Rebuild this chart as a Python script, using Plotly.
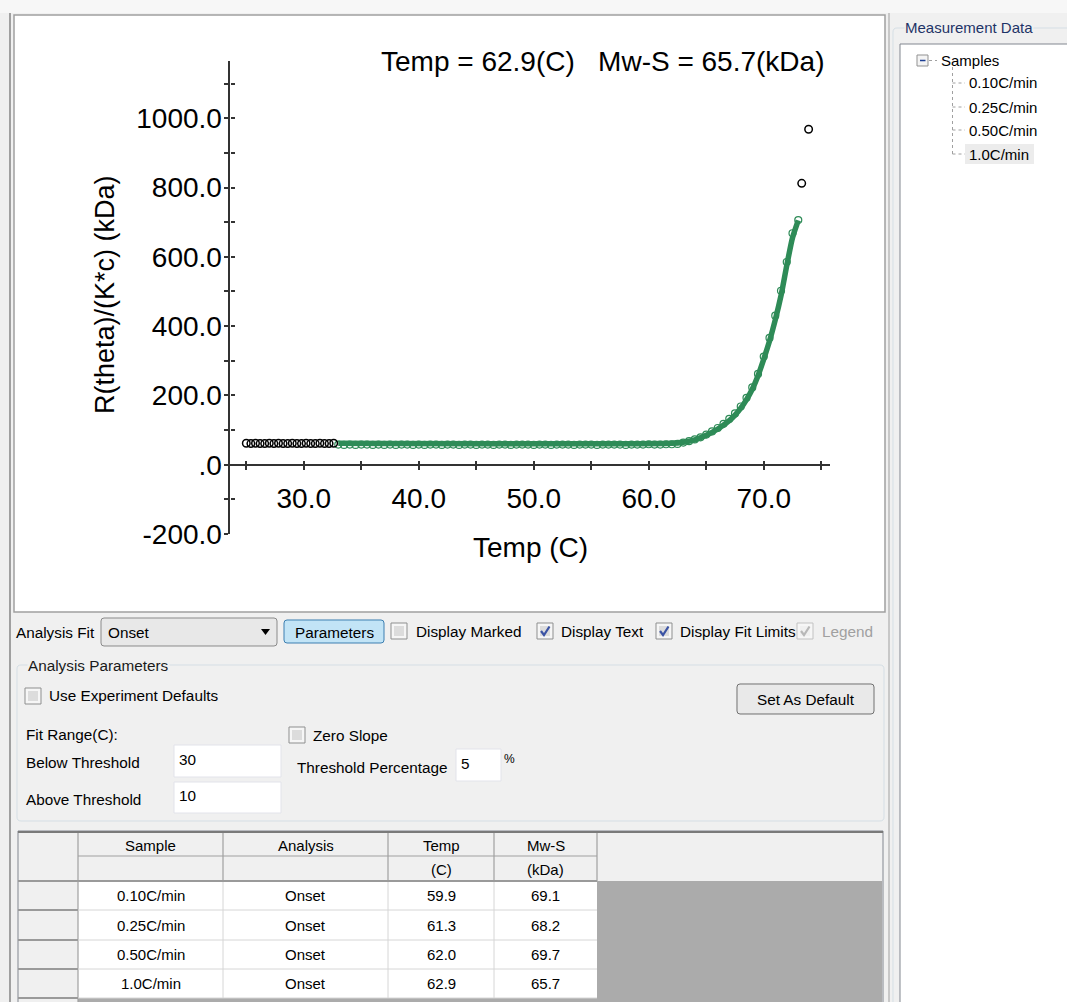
import plotly.graph_objects as go

W, H = 1067, 1002

# ---------------- data ----------------
# points outside the fit range (black)
excluded_temp = [25.0, 25.4, 25.8, 26.2, 26.6, 27.0, 27.4, 27.8, 28.2, 28.6,
                 29.0, 29.4, 29.8, 30.2, 30.6, 31.0, 31.4, 31.8, 32.2, 32.6,
                 73.3, 73.9]
excluded_val = [62, 61, 62, 61, 61, 62, 61, 62, 61, 61,
                62, 61, 61, 62, 61, 61, 62, 61, 61, 62,
                812, 968]

# points inside the fit range (green)
fit_range_temp = [33.0, 33.5, 34.0, 34.5, 35.0, 35.5, 36.0, 36.5, 37.0, 37.5,
                  38.0, 38.5, 39.0, 39.5, 40.0, 40.5, 41.0, 41.5, 42.0, 42.5,
                  43.0, 43.5, 44.0, 44.5, 45.0, 45.5, 46.0, 46.5, 47.0, 47.5,
                  48.0, 48.5, 49.0, 49.5, 50.0, 50.5, 51.0, 51.5, 52.0, 52.5,
                  53.0, 53.5, 54.0, 54.5, 55.0, 55.5, 56.0, 56.5, 57.0, 57.5,
                  58.0, 58.5, 59.0, 59.5, 60.0, 60.5, 61.0, 61.5, 62.0, 62.5,
                  63.0, 63.5, 64.0, 64.5, 65.0, 65.5, 66.0, 66.5, 67.0, 67.5,
                  68.0, 68.5, 69.0, 69.5, 70.0, 70.5, 71.0, 71.5, 72.0, 72.5,
                  73.0]
fit_range_val = [58, 57, 58, 57, 58, 58, 57, 58, 57, 58,
                 57, 58, 58, 57, 58, 57, 58, 58, 57, 58,
                 58, 57, 58, 58, 57, 58, 58, 57, 58, 58,
                 57, 58, 58, 58, 57, 58, 58, 57, 58, 58,
                 58, 57, 58, 58, 58, 57, 58, 58, 58, 58,
                 57, 58, 58, 58, 59, 58, 58, 59, 59, 60,
                 64, 68, 73, 79, 87, 96, 106, 118, 132, 148,
                 168, 193, 223, 262, 312, 366, 430, 502, 585, 668,
                 706]

# onset fit curve
fit_temp = [33.0, 62.0, 63.0, 64.0, 65.0, 66.0, 67.0, 67.5, 68.0, 68.5,
            69.0, 69.5, 70.0, 70.5, 71.0, 71.5, 72.0, 72.5, 73.0]
fit_val = [62, 62, 65, 72, 85, 103, 127, 143, 163, 188,
           218, 257, 305, 357, 418, 488, 575, 655, 705]

x_tick_vals = [25, 30, 35, 40, 45, 50, 55, 60, 65, 70, 75]
x_tick_text = ['', '30.0', '', '40.0', '', '50.0', '', '60.0', '', '70.0', '']
y_tick_vals = [-200, -100, 0, 100, 200, 300, 400, 500, 600, 700, 800, 900, 1000, 1100]
y_tick_text = ['-200.0', '', '.0', '', '200.0', '', '400.0', '', '600.0', '',
               '800.0', '', '1000.0', '']

# results table
samples = ['0.10C/min', '0.25C/min', '0.50C/min', '1.0C/min']
analysis = ['Onset', 'Onset', 'Onset', 'Onset']
onset_temp = [59.9, 61.3, 62.0, 62.9]
mw_s = [69.1, 68.2, 69.7, 65.7]
selected = 3

# ---------------- helpers ----------------
UI = 'Arial, Liberation Sans, sans-serif'
shapes = []
annotations = []


def X(px):
    return px / W


def Y(py):
    return 1 - py / H


def rect(x0, y0, x1, y1, fill=None, line=None, lw=1):
    shapes.append(dict(type='rect', xref='paper', yref='paper',
                       x0=X(x0), x1=X(x1), y0=Y(y0), y1=Y(y1),
                       fillcolor=fill or 'rgba(0,0,0,0)',
                       line=dict(color=line or 'rgba(0,0,0,0)', width=lw if line else 0),
                       layer='below'))


def seg(x0, y0, x1, y1, color, lw=1, dash='solid'):
    shapes.append(dict(type='line', xref='paper', yref='paper',
                       x0=X(x0), x1=X(x1), y0=Y(y0), y1=Y(y1),
                       line=dict(color=color, width=lw, dash=dash), layer='below'))


def path(d, color=None, lw=1, fill=None):
    shapes.append(dict(type='path', xref='paper', yref='paper', path=d,
                       fillcolor=fill or 'rgba(0,0,0,0)',
                       line=dict(color=color or 'rgba(0,0,0,0)', width=lw if color else 0),
                       layer='below'))


def poly(pts, color=None, lw=1, fill=None, closed=False):
    d = 'M ' + ' L '.join(f'{X(a):.5f},{Y(b):.5f}' for a, b in pts)
    if closed:
        d += ' Z'
    path(d, color, lw, fill)


def rrect(x0, y0, x1, y1, r, fill=None, line=None, lw=1):
    p = lambda a, b: f'{X(a):.5f},{Y(b):.5f}'
    d = (f'M {p(x0 + r, y0)} L {p(x1 - r, y0)} Q {p(x1, y0)} {p(x1, y0 + r)} '
         f'L {p(x1, y1 - r)} Q {p(x1, y1)} {p(x1 - r, y1)} L {p(x0 + r, y1)} '
         f'Q {p(x0, y1)} {p(x0, y1 - r)} L {p(x0, y0 + r)} Q {p(x0, y0)} {p(x0 + r, y0)} Z')
    path(d, line, lw, fill)


def text(x, y, s, size=15.3, color='#000000', anchor='left', bg=None, angle=0, family=UI):
    a = dict(xref='paper', yref='paper', x=X(x), y=Y(y), text=s, showarrow=False,
             xanchor=anchor, yanchor='middle', textangle=angle,
             font=dict(family=family, size=size, color=color), borderpad=0)
    if bg:
        a['bgcolor'] = bg
    annotations.append(a)


def checkbox(x, y, checked=False, disabled=False):
    border = '#c2c2c2' if disabled else '#8e8f8f'
    rect(x, y, x + 16, y + 16, fill='#f6f6f6', line=border)
    rect(x + 3, y + 3, x + 13, y + 13, fill='#f0f0f0' if disabled else '#dcdcdc')
    if checked:
        col = '#b8b8b8' if disabled else '#3b53a4'
        poly([(x + 4, y + 8), (x + 7, y + 12), (x + 12.5, y + 3.5)], color=col, lw=2.2)


# ---------------- UI chrome ----------------
rect(0, 0, W, 13, fill='#f7f7f7')
seg(10, 13, 10, H, '#a0a0a0', 2)
seg(889, 13, 889, H, '#a0a0a0', 1)
# chart panel
rect(14, 15, 885, 612, fill='#ffffff', line='#a0a0a0', lw=1.5)

# right panel : Measurement Data
rrect(893, 28, 1080, 1015, 4, line='#d5dfe5', lw=1)
rect(900, 44, 1075, 1010, fill='#ffffff', line='#828790')
text(904, 28, 'Measurement Data', size=15, color='#1e3467', bg='#f0f0f0')
rect(917, 55, 928, 66, fill='#f4f4f4', line='#919191')
seg(920, 60.5, 925.5, 60.5, '#1c3f94', 1.5)
seg(929, 60.5, 937, 60.5, '#a0a0a0', 1, 'dot')
text(940, 60, 'Samples', size=15)
item_y = [83, 107, 130, 154]
seg(952.5, 67, 952.5, item_y[-1], '#a0a0a0', 1, 'dot')
for i, s in enumerate(samples):
    seg(952.5, item_y[i], 965, item_y[i], '#a0a0a0', 1, 'dot')
    if i == selected:
        rect(965, item_y[i] - 10, 1034, item_y[i] + 10, fill='#ececec')
    text(968, item_y[i], s, size=15)

# controls row
text(15, 632, 'Analysis Fit')
rrect(101, 618, 277, 646, 3, fill='#e8e8e8', line='#8a8a8a')
text(107, 632, 'Onset')
poly([(261, 629), (270, 629), (265.5, 635)], fill='#000000', closed=True)
rrect(284, 620, 384, 643, 3, fill='#c2e4f6', line='#3c7fb1')
text(334, 632, 'Parameters', anchor='center')
checkbox(391, 623)
text(415, 631, 'Display Marked')
checkbox(537, 623, True)
text(560, 631, 'Display Text')
checkbox(656, 623, True)
text(679, 631, 'Display Fit Limits')
checkbox(797, 623, True, disabled=True)
text(821, 631, 'Legend', color='#a0a0a0')

# analysis parameters group
rrect(17, 665, 884, 821, 4, line='#d5dfe5', lw=1)
text(27, 665, 'Analysis Parameters', color='#1a1a1a', bg='#f0f0f0')
checkbox(25, 688)
text(48, 695, 'Use Experiment Defaults')
rrect(737, 684, 874, 714, 3, fill='#e9e9e9', line='#707070')
text(805.5, 699, 'Set As Default', anchor='center')
text(25, 734, 'Fit Range(C):')
text(25, 762, 'Below Threshold')
rect(174, 745, 281, 777, fill='#ffffff', line='#e2e3ea')
text(178, 759, '30')
text(25, 799, 'Above Threshold')
rect(174, 782, 281, 813, fill='#ffffff', line='#e2e3ea')
text(178, 795, '10')
checkbox(289, 727)
text(312, 735, 'Zero Slope')
text(296, 767, 'Threshold Percentage')
rect(456, 749, 501, 781, fill='#ffffff', line='#e2e3ea')
text(460, 763, '5')
text(503, 759, '%', size=12)

# results table
col_x = [78, 223, 388, 494, 597]
row_y = [881, 910, 940, 969, 998]
rect(18, 831, 883, H + 5, fill='#f0f0f0', line='#828790')
seg(18, 832, 883, 832, '#7a7a7a', 2)
rect(col_x[0], row_y[0], col_x[-1], row_y[-1], fill='#ffffff')
rect(col_x[-1], row_y[0], 882, H + 5, fill='#ababab')
rect(col_x[0], row_y[-1], 882, H + 5, fill='#ababab')
for cx in col_x:
    seg(cx, 833, cx, row_y[0], '#a0a0a0', 1.2)
for cx in col_x[1:-1]:
    seg(cx, row_y[0], cx, row_y[-1], '#d6d6d6', 1)
seg(col_x[0], 856, col_x[-1], 856, '#a0a0a0', 1.2)
seg(18, row_y[0], col_x[-1], row_y[0], '#9a9a9a', 2)
seg(col_x[0], row_y[0], col_x[0], H, '#a0a0a0', 1.2)
for ry in row_y[1:]:
    seg(18, ry, col_x[0], ry, '#9a9a9a', 2)
    seg(col_x[0], ry, col_x[-1], ry, '#d6d6d6', 1)
heads = ['Sample', 'Analysis', 'Temp', 'Mw-S']
units = ['', '', '(C)', '(kDa)']
centers = [(col_x[i] + col_x[i + 1]) / 2 for i in range(4)]
for i in range(4):
    text(centers[i], 845, heads[i], size=15, anchor='center')
    if units[i]:
        text(centers[i], 869, units[i], size=15, anchor='center')
for r in range(4):
    cy = (row_y[r] + row_y[r + 1]) / 2
    vals = [samples[r], analysis[r], f'{onset_temp[r]:.1f}', f'{mw_s[r]:.1f}']
    for i in range(4):
        text(centers[i], cy, vals[i], size=15, anchor='center')

# ---------------- chart ----------------
CF = 'Arial, Liberation Sans, sans-serif'
xd = [229.5 / W, 830 / W]
yd = [Y(534), Y(60.7)]
x_range = [23.54, 75.76]
y_range = [-200, 1166]
pos0 = yd[0] + (0 - y_range[0]) / (y_range[1] - y_range[0]) * (yd[1] - yd[0])

fig = go.Figure()
fig.add_trace(go.Scatter(x=fit_range_temp, y=fit_range_val, mode='markers',
                         marker=dict(symbol='circle-open', size=7, color='#2e8b57',
                                     line=dict(width=1.2, color='#2e8b57')),
                         showlegend=False, hoverinfo='skip'))
fig.add_trace(go.Scatter(x=fit_temp, y=fit_val, mode='lines',
                         line=dict(color='#2e8b57', width=5.5, shape='spline', smoothing=0.6),
                         showlegend=False, hoverinfo='skip'))
fig.add_trace(go.Scatter(x=excluded_temp, y=excluded_val, mode='markers',
                         marker=dict(symbol='circle-open', size=7.5, color='#000000',
                                     line=dict(width=1.5, color='#000000')),
                         showlegend=False, hoverinfo='skip'))
fig.add_trace(go.Scatter(x=[None], y=[None], xaxis='x2', yaxis='y2',
                         showlegend=False, hoverinfo='skip'))

axis_common = dict(showgrid=False, zeroline=False, tickcolor='#333333', tickwidth=1.5,
                   ticklen=4, automargin=False)
fig.update_layout(
    width=W, height=H, autosize=False,
    margin=dict(l=0, r=0, t=0, b=0, pad=0, autoexpand=False),
    paper_bgcolor='#f0f0f0', plot_bgcolor='rgba(0,0,0,0)', showlegend=False,
    xaxis=dict(domain=xd, range=x_range, anchor='free', position=pos0,
               showline=True, linecolor='#333333', linewidth=2, ticks='outside',
               tickmode='array', tickvals=x_tick_vals, ticktext=x_tick_text,
               tickfont=dict(family=CF, size=28, color='#000000'),
               ticklabelstandoff=5, **axis_common),
    yaxis=dict(domain=yd, range=y_range, anchor='x',
               showline=True, linecolor='#333333', linewidth=2, ticks='outside',
               tickmode='array', tickvals=y_tick_vals, ticktext=y_tick_text,
               tickfont=dict(family=CF, size=28, color='#000000'),
               ticklabelstandoff=-4, **axis_common),
    xaxis2=dict(overlaying='x', range=x_range, anchor='free', position=pos0,
                showline=False, ticks='inside', tickmode='array', tickvals=x_tick_vals,
                showticklabels=False, **axis_common),
    yaxis2=dict(overlaying='y', range=y_range, anchor='free', position=xd[0],
                showline=False, ticks='inside', tickmode='array', tickvals=y_tick_vals,
                showticklabels=False, **axis_common),
    shapes=shapes,
)

chart_ann = [
    dict(x=X(602), y=Y(62), text=f'Temp = {onset_temp[selected]:.1f}(C)\u00a0\u00a0\u00a0Mw-S = {mw_s[selected]:.1f}(kDa)', size=28),
    dict(x=X(530), y=Y(547), text='Temp (C)', size=28),
    dict(x=X(105), y=Y(295), text='R(theta)/(K*c) (kDa)', textangle=-90, size=27),
]
for a in chart_ann:
    sz = a.pop('size')
    a.update(xref='paper', yref='paper', showarrow=False, xanchor='center', yanchor='middle',
             font=dict(family=CF, size=sz, color='#000000'))
    annotations.append(a)
fig.update_layout(annotations=annotations)

fig.write_html('out.html', config={'responsive': False})
